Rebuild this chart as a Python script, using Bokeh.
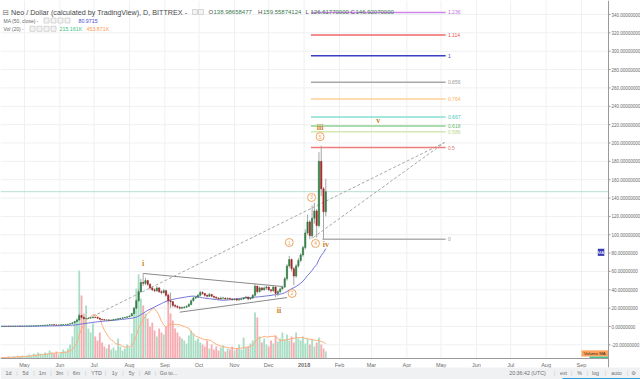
import pandas as pd
from bokeh.plotting import figure
from bokeh.models import Range1d
from bokeh.embed import file_html
from bokeh.resources import INLINE
from bokeh.core.properties import value

# ---------------- data (2-day candles) ----------------
first_bar = "2017-04-11"
bar_days = 2
first_open = 0.19
closes = [0.20, 0.22, 0.25, 0.24, 0.28, 0.30, 0.32, 0.35, 0.33, 0.38, 0.40,
          0.45, 0.50, 0.60, 0.70, 0.85, 0.95, 1.10, 1.30, 1.45, 1.60,
          1.80, 2.00, 1.75, 1.55, 1.65, 1.85, 2.05, 2.30,
          2.60, 3.10, 4.00, 5.50, 7.00,
          12.0, 10.0, 8.5, 8.8, 9.2, 9.5, 10.2,
          9.8, 9.0, 8.0, 7.5, 7.0, 7.2, 6.8, 7.0, 7.5, 8.0,
          8.5, 9.0, 9.5, 10.0, 10.5, 11.5, 14.0, 20.0, 28.0, 38.0,
          48.0, 47.0, 50.0, 46.0, 42.0, 40.0, 39.0, 42.0, 38.0, 37.0,
          39.0, 34.0, 28.0, 27.0, 23.0, 22.0, 21.0, 20.0, 20.5, 21.0,
          22.0, 24.0, 28.0, 31.0, 32.0, 34.0, 37.0, 36.0, 34.0, 33.0,
          35.0, 33.0, 32.0, 31.0, 30.0, 31.0, 31.0, 30.0, 30.5, 30.0,
          29.5, 30.0, 29.0, 29.5, 30.0, 31.0, 32.0, 30.0, 31.0, 34.0,
          44.0, 38.0, 42.0, 40.0, 42.0, 43.0, 40.0, 39.0, 43.0, 36.0,
          38.0, 41.0, 43.0, 52.0, 66.0, 73.0, 63.0, 55.0, 66.0, 72.0,
          78.0, 86.0, 102.0, 114.0, 99.0, 118.0, 126.0, 110.0, 180.0, 150.0, 125.0, 146.92]
highs = [0.21, 0.23, 0.26, 0.26, 0.29, 0.31, 0.34, 0.36, 0.36, 0.39, 0.42,
         0.47, 0.53, 0.63, 0.74, 0.90, 1.00, 1.20, 1.40, 1.55, 1.70,
         1.95, 2.15, 2.05, 1.80, 1.75, 1.95, 2.15, 2.45,
         2.80, 3.30, 4.40, 6.00, 7.80,
         14.5, 12.5, 10.2, 9.4, 9.8, 10.0, 10.8,
         10.6, 10.0, 9.2, 8.2, 7.8, 7.6, 7.4, 7.3, 7.9, 8.4,
         8.9, 9.4, 9.9, 10.4, 11.0, 12.0, 15.0, 21.5, 30.0, 41.0,
         52.0, 58.0, 53.0, 51.0, 47.0, 43.5, 41.5, 44.0, 43.0, 39.5,
         41.0, 40.0, 35.0, 37.0, 28.0, 24.5, 23.0, 22.0, 22.0, 22.5,
         23.0, 25.5, 29.5, 32.5, 33.5, 35.5, 39.0, 38.5, 36.5, 35.0,
         36.5, 35.5, 33.5, 32.5, 31.5, 32.5, 32.5, 31.5, 31.8, 31.5,
         30.8, 31.0, 30.5, 30.5, 31.0, 32.0, 33.5, 32.5, 32.0, 35.5,
         47.0, 44.5, 43.5, 43.0, 43.5, 44.5, 43.5, 41.0, 44.5, 43.5,
         39.5, 42.5, 44.5, 54.0, 68.0, 77.0, 74.0, 65.0, 68.0, 74.5,
         80.0, 88.0, 106.0, 122.0, 116.0, 132.0, 135.0, 128.0, 190.0, 197.0, 152.0, 161.0]
lows = [0.18, 0.19, 0.21, 0.22, 0.23, 0.27, 0.29, 0.31, 0.31, 0.32, 0.36,
        0.38, 0.43, 0.48, 0.58, 0.68, 0.82, 0.92, 1.05, 1.25, 1.40,
        1.55, 1.75, 1.65, 1.45, 1.50, 1.60, 1.80, 2.00,
        2.25, 2.50, 3.00, 3.80, 5.20,
        6.8, 9.0, 7.8, 8.0, 8.5, 8.8, 9.2,
        9.2, 8.6, 7.6, 7.0, 6.6, 6.5, 6.4, 6.5, 6.8, 7.3,
        7.8, 8.3, 8.8, 9.3, 9.8, 10.3, 11.2, 13.5, 19.0, 27.0,
        37.0, 44.0, 45.0, 44.0, 40.0, 38.5, 37.5, 38.0, 36.5, 35.0,
        36.0, 32.5, 24.0, 20.0, 21.0, 20.5, 19.5, 18.5, 19.0, 19.5,
        20.5, 21.5, 23.0, 27.5, 30.0, 31.0, 33.0, 34.5, 32.5, 31.5,
        32.0, 32.0, 30.5, 29.5, 28.5, 29.0, 29.5, 28.5, 29.0, 28.5,
        28.0, 28.5, 27.5, 28.0, 28.5, 29.5, 30.0, 28.5, 29.0, 30.0,
        33.0, 36.0, 37.0, 38.5, 39.0, 40.0, 38.5, 37.0, 38.0, 32.0,
        33.0, 36.5, 40.0, 42.0, 50.0, 64.0, 60.0, 45.0, 53.0, 64.0,
        70.0, 76.0, 84.0, 100.0, 95.0, 96.0, 112.0, 97.0, 108.0, 142.0, 95.0, 120.0]
volumes_k = [30, 30, 30, 60, 30, 60, 60, 90, 60, 90, 60,
             90, 120, 90, 150, 120, 180, 150, 120, 180, 150,
             240, 180, 150, 210, 120, 180, 270, 210,
             300, 420, 660, 1080, 1200,
             2640, 1890, 1350, 1590, 900, 780, 1050,
             660, 540, 780, 480, 360, 300, 420, 270, 330, 240,
             600, 360, 240, 300, 420, 330, 750, 1500, 2100, 2520,
             1800, 1590, 1350, 1200, 960, 1080, 840, 660, 900, 780,
             720, 960, 1950, 1350, 1140, 900, 780, 660, 600, 540,
             450, 690, 840, 750, 540, 600, 480, 420, 360, 540,
             300, 420, 270, 360, 240, 330, 390, 210, 300, 270,
             360, 240, 300, 420, 270, 630, 330, 360, 450, 540,
             1380, 1230, 660, 480, 600, 420, 360, 540, 450, 690,
             510, 600, 780, 570, 720, 540, 660, 480, 780, 600,
             540, 660, 450, 600, 420, 570, 360, 480, 630, 420, 300, 215]

ma_period_bars = 25       # MA(50) of daily closes -> 25 two-day bars
vol_ma_period_bars = 10   # Vol MA(20)

price_ticks = list(range(-20, 341, 20))
price_tick_labels = ["%.8f" % t for t in price_ticks]
month_starts = ["2017-05-01", "2017-06-01", "2017-07-01", "2017-08-01", "2017-09-01",
                "2017-10-01", "2017-11-01", "2017-12-01", "2018-01-01", "2018-02-01",
                "2018-03-01", "2018-04-01", "2018-05-01", "2018-06-01", "2018-07-01",
                "2018-08-01", "2018-09-01"]
month_labels = ["May", "Jun", "Jul", "Aug", "Sep", "Oct", "Nov", "Dec", "2018",
                "Feb", "Mar", "Apr", "May", "Jun", "Jul", "Aug", "Sep"]

fib_low, fib_high = 95.0, 295.0
fib_ratios = [0, 0.5, 0.586, 0.618, 0.667, 0.764, 0.856, 1, 1.114, 1.236]
fib_labels = ["0", "0.5", "0.586", "0.618", "0.667", "0.764", "0.856", "1", "1.114", "1.236"]

header_title = "Neo / Dollar (calculated by TradingView), D, BITTREX -"
ohlc_names = ["O", "H", "L", "C"]
ohlc_values = ["138.98658477", "159.55874124", "126.61770000", "146.92070000"]
ma_value_text = "80.9715"
vol_value_texts = ["215.161K", "453.871K"]
last_close = 146.92070000

# ---------------- styles ----------------
fib_colors = ["#b0b0b0", "#ef7b7b", "#d5e8b4", "#8fd18f", "#86dfd0", "#ffcf99",
              "#a8a8a8", "#3b3fc4", "#f06868", "#cf86e8"]
fib_text_colors = ["#9a9a9a", "#e57373", "#b8d48a", "#66bb6a", "#4dc9b5", "#ffb060",
                   "#9a9a9a", "#3b3fc4", "#ef5350", "#c070e0"]
WAVE_COLOR = "#c98426"
CIRCLE_COLOR = "#f0a35e"
UP_BODY, DN_BODY = "#2f7d45", "#a52323"
UP_VOL, DN_VOL = "#a9dec5", "#f6adb1"
FONT = "Liberation Sans"

# ---------------- geometry ----------------
T0 = pd.Timestamp("2017-04-10")
DAY_PX = 1.1414
ZERO_PY = 326.0
UNIT_PY = 0.9176
VOL_K_PER_PX = 30.0
VOL_BASE_PY = 358.0
W, H = 640, 379
AXIS_PX = 608
DAY_MS = 86400000.0


def ms(ts):
    return pd.Timestamp(ts).value / 1e6


def px_to_x(px):
    return ms(T0) + px / DAY_PX * DAY_MS


def py_to_y(py):
    return (ZERO_PY - py) / UNIT_PY


p = figure(width=W, height=H, output_backend="svg", toolbar_location=None,
           x_range=Range1d(px_to_x(0), px_to_x(W)),
           y_range=Range1d(py_to_y(H), py_to_y(0)),
           x_axis_type=None, y_axis_type=None, min_border=0)
p.outline_line_color = None
p.background_fill_color = "white"
p.border_fill_color = "white"
p.extra_y_ranges = {"vol": Range1d(-(H - VOL_BASE_PY) * VOL_K_PER_PX, VOL_BASE_PY * VOL_K_PER_PX)}


def txt(px, py, s, size, color, align="left", font=FONT, style="normal", baseline="middle"):
    p.text(x=[px_to_x(px)], y=[py_to_y(py)], text=[s], text_font=value(font),
           text_font_size=value("%.1fpx" % size), text_color=color, text_align=align,
           text_baseline=baseline, text_font_style=style)


def dtxt(d, yv, s, size, color, align="center", font=FONT, style="normal"):
    p.text(x=[ms(d)], y=[yv], text=[s], text_font=value(font),
           text_font_size=value("%.1fpx" % size), text_color=color, text_align=align,
           text_baseline="middle", text_font_style=style)


x_left, x_axis = px_to_x(0), px_to_x(AXIS_PX)
y_base, y_top = py_to_y(VOL_BASE_PY), py_to_y(0)

# grid
n = len(price_ticks)
p.segment(x0=[x_left] * n, y0=price_ticks, x1=[x_axis] * n, y1=price_ticks,
          line_color="#eef0f3", line_width=1)
mx = [ms(m) for m in month_starts]
p.segment(x0=mx, y0=[y_base] * len(mx), x1=mx, y1=[y_top] * len(mx),
          line_color="#eef0f3", line_width=1)

# candles data
dates = pd.date_range(first_bar, periods=len(closes), freq="%dD" % bar_days)
xs = [ms(d) for d in dates]
opens = [first_open] + closes[:-1]
up = [c >= o for o, c in zip(opens, closes)]

# volume
p.vbar(x=xs, top=volumes_k, bottom=0, width=bar_days * DAY_MS * 0.8,
       fill_color=[UP_VOL if u else DN_VOL for u in up], line_color=None, y_range_name="vol")
vol_ma = pd.Series(volumes_k, dtype=float).rolling(vol_ma_period_bars, min_periods=1).mean()
p.line(x=xs, y=list(vol_ma), line_color="#ffae7a", line_width=1, y_range_name="vol")

# last price line
p.segment(x0=[x_left], y0=[last_close], x1=[x_axis], y1=[last_close], line_color="#b4e0d0", line_width=1)

# triangle lines
p.segment(x0=[ms("2017-08-13"), ms("2017-09-14")], y0=[57.8, 15.6],
          x1=[ms("2017-12-13"), ms("2017-12-17")], y1=[43.6, 31.5],
          line_color="#8a8a8a", line_width=1)
# dashed trend lines
p.segment(x0=[ms("2017-06-26"), ms("2018-01-09")], y0=[8.7, 97.0],
          x1=[ms("2018-05-04"), ms("2018-05-04")], y1=[200.5, 200.5],
          line_color="#a8a8a8", line_width=1, line_dash="3 2")

# fib levels
fib_prices = [fib_low + r * (fib_high - fib_low) for r in fib_ratios]
fib_x0 = [ms("2018-01-17") if r == 0 else ms("2018-01-07") for r in fib_ratios]
fib_x1 = [ms("2018-05-05")] * len(fib_ratios)
p.segment(x0=fib_x0, y0=fib_prices, x1=fib_x1, y1=fib_prices, line_color=fib_colors, line_width=1.5)
p.text(x=[ms("2018-05-07")] * len(fib_ratios), y=fib_prices, text=fib_labels,
       text_color=fib_text_colors, text_font=value(FONT), text_font_size=value("5px"),
       text_baseline="middle", text_align="left")

# MA
ma = pd.Series(closes, dtype=float).rolling(ma_period_bars, min_periods=1).mean()
p.line(x=xs, y=list(ma), line_color="#7373d9", line_width=1)

# candles
p.segment(x0=xs, y0=lows, x1=xs, y1=highs, line_color="#a6a6a6", line_width=1)
cols = [UP_BODY if u else DN_BODY for u in up]
p.vbar(x=xs, top=[max(o, c) for o, c in zip(opens, closes)],
       bottom=[min(o, c) for o, c in zip(opens, closes)],
       width=bar_days * DAY_MS * 0.55, fill_color=cols, line_color=cols, line_width=0.6)

# wave labels
for d, yv, s in [("2017-08-13", 68.7, "i"), ("2017-12-10", 17.4, "ii"), ("2018-01-15", 216.9, "iii"),
                 ("2018-01-20", 89.4, "iv"), ("2018-03-07", 224.5, "v")]:
    dtxt(d, yv, s, 8, WAVE_COLOR, font="Liberation Serif", style="bold")
circ = [("2017-12-19", 91.5, "1"), ("2017-12-21 12:00", 36.0, "2"), ("2018-01-07 12:00", 140.6, "3"),
        ("2018-01-11", 90.5, "4"), ("2018-01-15", 207.0, "5")]
p.scatter(x=[ms(c[0]) for c in circ], y=[c[1] for c in circ], size=8, marker="circle",
          fill_color="white", fill_alpha=0.6, line_color=CIRCLE_COLOR, line_width=1)
p.text(x=[ms(c[0]) for c in circ], y=[c[1] for c in circ], text=[c[2] for c in circ],
       text_color=CIRCLE_COLOR, text_font=value(FONT), text_font_size=value("5px"),
       text_align="center", text_baseline="middle")

# right axis
p.segment(x0=[x_axis], y0=[py_to_y(H - 12)], x1=[x_axis], y1=[y_top], line_color="#9a9a9a", line_width=1)
p.segment(x0=[x_axis] * n, y0=price_ticks, x1=[px_to_x(AXIS_PX + 2)] * n, y1=price_ticks,
          line_color="#9a9a9a", line_width=1)
p.text(x=[px_to_x(AXIS_PX + 3)] * n, y=price_ticks, text=price_tick_labels, text_color="#6a6a6a",
       text_font=value(FONT), text_font_size=value("4.5px"), text_baseline="middle", text_align="left")

# MA and Volume MA tags
p.quad(left=[px_to_x(597.3)], right=[px_to_x(603.8)], bottom=[py_to_y(255.4)], top=[py_to_y(248.3)],
       fill_color="#3a3ab4", line_color=None)
txt(600.5, 251.9, "MA", 4.2, "white", align="center")
p.quad(left=[px_to_x(581)], right=[px_to_x(607.5)], bottom=[py_to_y(356)], top=[py_to_y(349.8)],
       fill_color="#ffa45e", line_color=None)
txt(594.2, 353, "Volume MA", 4.3, "#3a2a1a", align="center")
p.quad(left=[px_to_x(589)], right=[px_to_x(607.5)], bottom=[py_to_y(358)], top=[py_to_y(356)],
       fill_color="#4cbf8a", line_color=None)

# bottom axis
p.segment(x0=[x_left], y0=[y_base], x1=[x_axis], y1=[y_base], line_color="#9a9a9a", line_width=1)
p.text(x=mx, y=[py_to_y(364)] * len(mx), text=month_labels, text_color="#6a6a6a",
       text_font=value(FONT), text_font_size=value("5.5px"), text_align="center", text_baseline="middle",
       text_font_style=["bold" if l == "2018" else "normal" for l in month_labels])

# toolbar strip
p.quad(left=[px_to_x(0)], right=[px_to_x(W)], bottom=[py_to_y(H)], top=[py_to_y(367)],
       fill_color="#f0f1f3", line_color=None)
btn = [(8, "1d"), (25, "5d"), (42, "1m"), (59, "3m"), (76, "6m"), (96, "YTD"), (114, "1y"),
       (131, "5y"), (147, "All"), (168, "Go to...")]
for bx, s in btn:
    txt(bx, 372.5, s, 5.3, "#6e6e6e", align="center")
for sx in [16.5, 33.5, 50.5, 67.5, 85, 105, 122.5, 139, 155]:
    txt(sx, 372.5, "|", 5.5, "#c8c8c8", align="center")
for bx, s in [(527, "20:36:42 (UTC)"), (563, "ext"), (579, "%"), (595, "log"), (616, "auto"), (633, "⚙")]:
    txt(bx, 372.5, s, 5.3, "#6e6e6e", align="center", font="DejaVu Sans" if s == "⚙" else FONT)
for sx in [554, 571, 587, 605, 627]:
    txt(sx, 372.5, "|", 5.5, "#c8c8c8", align="center")
p.quad(left=[px_to_x(562)], right=[px_to_x(W)], bottom=[py_to_y(H)], top=[py_to_y(377.6)],
       fill_color="#2f9bd9", line_color=None)

# header
txt(2, 11.5, "⊟", 7.5, "#777777", font="DejaVu Sans")
txt(10.5, 11.5, header_title, 7.2, "#4a4a4a")
p.scatter(x=[px_to_x(194.5), px_to_x(200.5)], y=[py_to_y(11.5)] * 2, marker="square", size=5,
          fill_color="#f3f3f3", line_color="#cccccc", line_width=0.8)
ox = [208, 257.5, 305, 350]
for xpx, nm, v in zip(ox, ohlc_names, ohlc_values):
    txt(xpx, 11.8, nm, 6, "#4a4a4a")
    txt(xpx + 5, 11.8, v, 6, "#3d7a4f")
txt(3, 20, "MA (50, close) -", 5, "#6a6a6a")
p.scatter(x=[px_to_x(v) for v in [46, 53, 60, 67]], y=[py_to_y(20)] * 4, marker="square", size=5,
          fill_color="#f3f3f3", line_color="#cccccc", line_width=0.8)
txt(78, 20, ma_value_text, 5.3, "#4a4ad0")
txt(3, 28.3, "Vol (20) -", 5, "#6a6a6a")
p.scatter(x=[px_to_x(v) for v in [32, 39, 46, 53]], y=[py_to_y(28.3)] * 4, marker="square", size=5,
          fill_color="#f3f3f3", line_color="#cccccc", line_width=0.8)
txt(59, 28.3, vol_value_texts[0], 5.3, "#3fbf7f")
txt(86, 28.3, vol_value_texts[1], 5.3, "#ff9a55")

open("out.html", "w").write(file_html(p, INLINE))
